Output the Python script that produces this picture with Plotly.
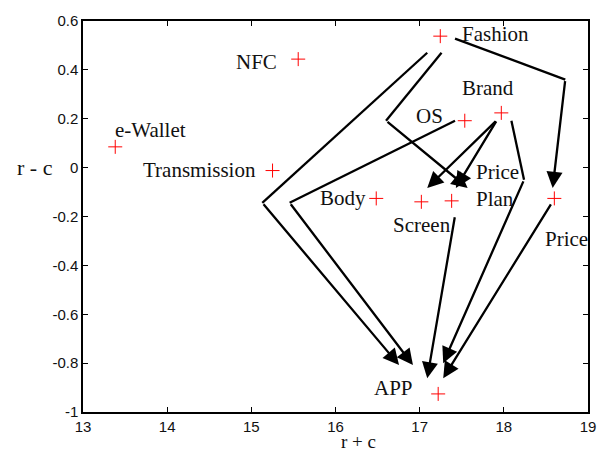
import plotly.graph_objects as go

# Factor positions: x = r + c, y = r - c
factors = ["Fashion", "NFC", "e-Wallet", "Transmission", "OS", "Brand",
           "Body", "Screen", "Price Plan", "Price", "APP"]
r_plus_c = [17.245, 15.557, 13.383, 15.252, 17.536, 17.97,
            16.484, 17.02, 17.38, 18.60, 17.22]
r_minus_c = [0.538, 0.444, 0.085, -0.012, 0.192, 0.224,
             -0.126, -0.14, -0.136, -0.126, -0.926]

# Label anchor positions (data coords) and horizontal anchoring
label_x = [17.476, 15.33, 13.355, 15.077, 17.306, 17.476,
           16.383, 16.655, 17.64, 18.46, 16.95]
label_y = [0.547, 0.434, 0.154, -0.009, 0.212, 0.326,
           -0.123, -0.235, -0.075, -0.294, -0.902]
label_text = ["Fashion", "NFC", "e-Wallet", "Transmission", "OS", "Brand",
              "Body", "Screen", "Price<br>Plan", "Price", "APP"]
label_anchor = ["left", "right", "left", "right", "right", "left",
                "right", "left", "left", "left", "right"]

# Influence paths: list of (x, y) vertices, last vertex is the arrow tip
paths = [
    [(17.42, 0.528), (18.73, 0.36), (18.58, -0.083)],
    [(17.09, 0.47), (15.13, -0.144), (16.755, -0.808)],
    [(17.26, 0.47), (16.60, 0.192), (17.57, -0.083)],
    [(17.42, 0.192), (15.455, -0.144), (16.92, -0.808)],
    [(17.92, 0.195), (17.09, -0.083)],
    [(17.92, 0.195), (17.43, -0.083)],
    [(18.09, 0.192), (18.24, -0.05), (17.28, -0.80)],
    [(17.42, -0.197), (17.09, -0.862)],
    [(18.57, -0.144), (17.28, -0.862)],
]

x_ticks = [13, 14, 15, 16, 17, 18, 19]
y_ticks = [-1, -0.8, -0.6, -0.4, -0.2, 0, 0.2, 0.4, 0.6]
y_tick_text = ["-1", "-0.8", "-0.6", "-0.4", "-0.2", "0", "0.2", "0.4", "0.6"]

fig = go.Figure()

# polyline bodies (all but the final segment)
for p in paths:
    if len(p) > 2:
        xs = [v[0] for v in p[:-1]]
        ys = [v[1] for v in p[:-1]]
        fig.add_trace(go.Scatter(x=xs, y=ys, mode="lines",
                                 line=dict(color="black", width=2.3),
                                 hoverinfo="skip", showlegend=False))

fig.add_trace(go.Scatter(
    x=r_plus_c, y=r_minus_c, mode="markers", text=factors,
    marker=dict(symbol="cross-thin", size=10,
                line=dict(color="#ff0000", width=1)),
    showlegend=False))

annotations = []
# final segments with arrowheads
for p in paths:
    (x0, y0), (x1, y1) = p[-2], p[-1]
    annotations.append(dict(
        x=x1, y=y1, ax=x0, ay=y0, xref="x", yref="y", axref="x", ayref="y",
        text="", showarrow=True, arrowhead=2, arrowsize=1.4, arrowwidth=2.3,
        arrowcolor="black", standoff=0, startstandoff=0))

for lx, ly, lt, la in zip(label_x, label_y, label_text, label_anchor):
    annotations.append(dict(
        x=lx, y=ly, xref="x", yref="y", text=lt, showarrow=False,
        xanchor=la, yanchor="middle", align="left",
        font=dict(family="Liberation Serif", size=21, color="#111")))

# axis titles, drawn horizontally
annotations.append(dict(x=-0.095, y=0.625, xref="paper", yref="paper",
                        xanchor="center", yanchor="middle",
                        text="r - c", showarrow=False,
                        font=dict(family="Liberation Serif", size=22, color="#111")))
annotations.append(dict(x=0.545, y=-0.076, xref="paper", yref="paper",
                        xanchor="center", yanchor="middle",
                        text="r + c", showarrow=False,
                        font=dict(family="Liberation Serif", size=19, color="#111")))

fig.update_layout(
    width=608, height=454,
    margin=dict(l=83, r=18, t=15, b=42),
    paper_bgcolor="white", plot_bgcolor="white",
    annotations=annotations,
    xaxis=dict(range=[13, 19], tickvals=x_ticks, ticks="inside", ticklen=5,
               showgrid=False, zeroline=False, showline=True, linecolor="black",
               linewidth=1.5, mirror="ticks", tickcolor="black",
               tickfont=dict(family="Liberation Sans", size=15, color="#111")),
    yaxis=dict(range=[-1, 0.6], tickvals=y_ticks, ticktext=y_tick_text,
               ticks="inside", ticklen=5,
               showgrid=False, zeroline=False, showline=True, linecolor="black",
               linewidth=1.5, mirror="ticks", tickcolor="black",
               tickfont=dict(family="Liberation Sans", size=15, color="#111")),
)

fig.write_html("out.html")
